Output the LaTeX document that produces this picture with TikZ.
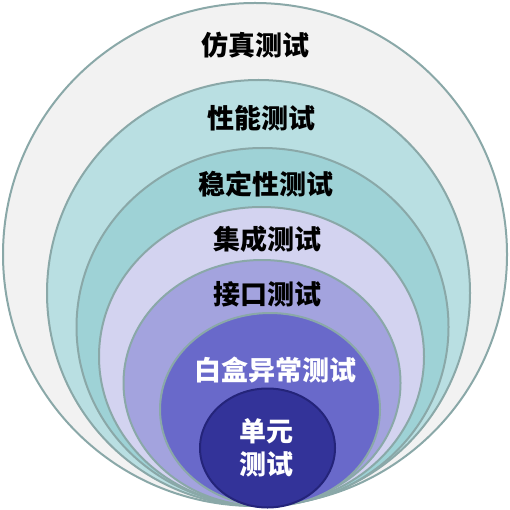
\documentclass[tikz,border=0pt]{standalone}
\usepackage{fontspec}
\newfontfamily\cjk{Noto Sans CJK SC}
\usepackage{xcolor}
\definecolor{RingLine}{HTML}{8AA8A8}
\definecolor{CoreLine}{HTML}{24247A}
\definecolor{SimGray}{HTML}{F2F2F2}
\definecolor{PerfTeal}{HTML}{B9DFE2}
\definecolor{StabTeal}{HTML}{9ED2D6}
\definecolor{IntLilac}{HTML}{D3D3F0}
\definecolor{IfaceLilac}{HTML}{A3A3DE}
\definecolor{WboxBlue}{HTML}{6969CA}
\definecolor{UnitNavy}{HTML}{333399}
\usepackage{tikz}

\begin{document}
\begin{tikzpicture}[x=1pt,y=-1pt,
  ring/.style={draw=RingLine,line width=2pt},
  lbl/.style={font=\cjk\bfseries\fontsize{27}{33}\selectfont,inner sep=0pt,align=center},
  lblw/.style={lbl,text=white}
]
  \useasboundingbox (0,0) rectangle (510,510);
  % nested rings, all touching at the bottom
  \draw[ring,fill=SimGray]    (255,254.5) ellipse [x radius=252pt,y radius=251.5pt];
  \draw[ring,fill=PerfTeal]   (258.5,293) ellipse [x radius=211.5pt,y radius=213pt];
  \draw[ring,fill=StabTeal]   (262.5,327) ellipse [x radius=186pt,y radius=179pt];
  \draw[ring,fill=IntLilac]   (261.5,356.5) ellipse [x radius=162.5pt,y radius=149.5pt];
  \draw[ring,fill=IfaceLilac] (262,383) ellipse [x radius=138.5pt,y radius=123pt];
  \draw[ring,fill=WboxBlue]   (270,409.5) ellipse [x radius=110pt,y radius=96.5pt];
  \draw[draw=CoreLine,line width=2pt,fill=UnitNavy] (267.5,448) ellipse [x radius=67.5pt,y radius=59.5pt];
  % labels
  \node[lbl]  (sim)   at (255,45.5)  {仿真测试};
  \node[lbl]  (perf)  at (261,118.5) {性能测试};
  \node[lbl]  (stab)  at (266,184)   {稳定性测试};
  \node[lbl]  (integ) at (267.5,239.5) {集成测试};
  \node[lbl]  (iface) at (267,294.5) {接口测试};
  \node[lblw] (wbox)  at (275,370)   {白盒异常测试};
  \node[lblw] (unit)  at (266.5,448) {单元\\测试};
\end{tikzpicture}
\end{document}
